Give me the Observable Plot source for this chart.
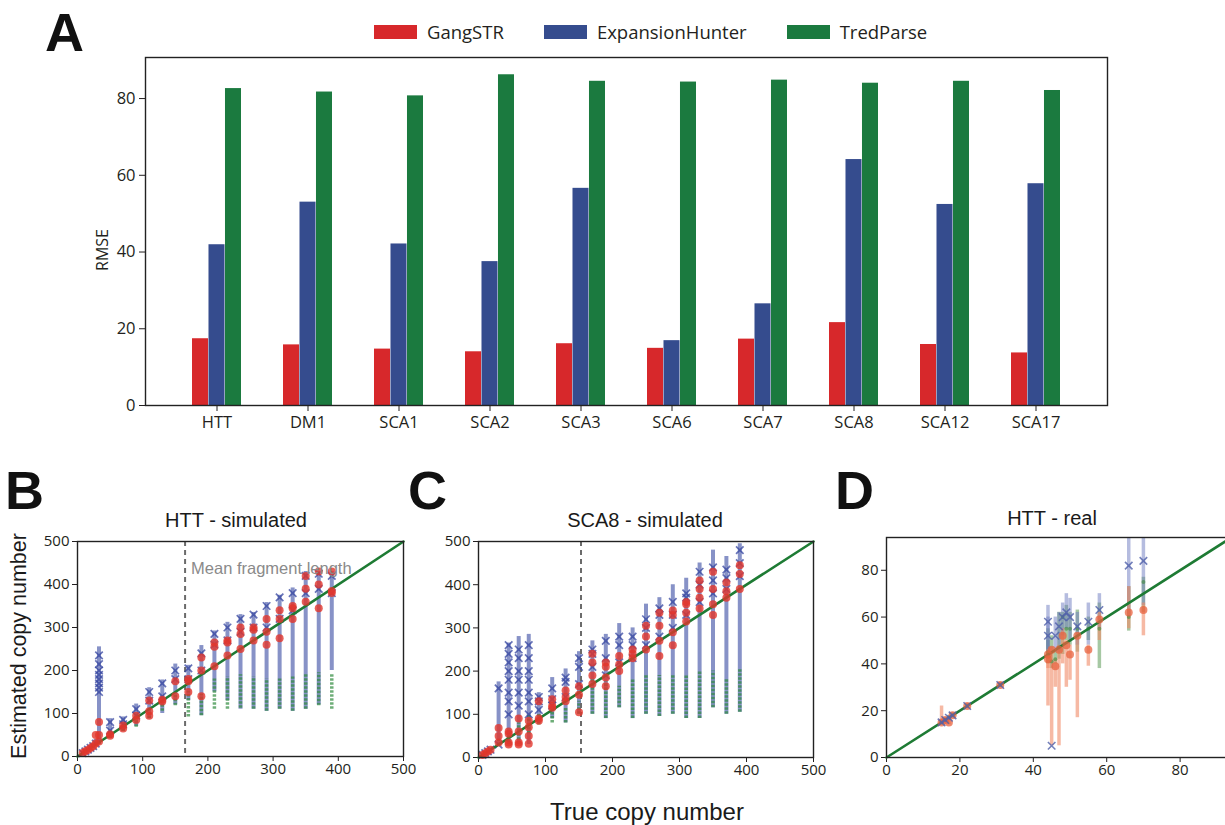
<!DOCTYPE html>
<html><head><meta charset="utf-8">
<script src="https://cdn.jsdelivr.net/npm/d3@7"></script>
<script src="https://cdn.jsdelivr.net/npm/@observablehq/plot@0.6"></script>
<style>
html,body{margin:0;padding:0;background:#fff;overflow:hidden;}
body{width:1225px;height:825px;position:relative;font-family:"Open Sans",sans-serif;color:#231f20;}
.abs{position:absolute;}
.letter{font-family:"Liberation Sans",Arial,sans-serif;font-weight:bold;font-size:54px;line-height:1;color:#111;}
.title{font-family:"Liberation Sans",Arial,sans-serif;font-size:20px;white-space:nowrap;transform:translateX(-50%);line-height:1;color:#1a1a1a;}
.legend{display:flex;align-items:center;font-size:18.5px;line-height:1;white-space:nowrap;}
.legend .item{display:flex;align-items:center;margin-right:40px;}
.legend .sw{width:43px;height:14px;margin-right:10px;}
svg{overflow:visible;max-width:none !important;}
</style></head><body>
<script>
// ---------- Panel A data ----------
const categories = ["HTT","DM1","SCA1","SCA2","SCA3","SCA6","SCA7","SCA8","SCA12","SCA17"];
const tools = ["GangSTR","ExpansionHunter","TredParse"];
const toolColors = ["#d7282b","#354c8e","#1b7a3f"];
const rmseGangSTR = [17.4, 15.8, 14.7, 14.0, 16.1, 14.9, 17.3, 21.6, 15.9, 13.7];
const rmseExpansionHunter = [41.9, 53.0, 42.1, 37.5, 56.6, 16.9, 26.5, 64.1, 52.4, 57.8];
const rmseTredParse = [82.6, 81.7, 80.7, 86.2, 84.5, 84.3, 84.8, 84.0, 84.5, 82.1];
const rmseTicks = [0, 20, 40, 60, 80];

// ---------- Panel B data (HTT - simulated) ----------
const bTrue  = [8, 12, 16, 20, 24, 28, 33, 50, 70, 90, 110, 130, 150, 170, 190, 210, 230, 250, 270, 290, 310, 330, 350, 370, 390];
const bEhLo  = [5, 9, 13, 17, 21, 25, 28, 45, 58, 70, 88, 100, 120, 130, 95, 150, 130, 110, 110, 105, 110, 105, 110, 120, 200];
const bEhHi  = [12, 16, 20, 25, 30, 40, 255, 88, 92, 122, 160, 178, 215, 212, 258, 292, 312, 330, 335, 358, 375, 392, 430, 430, 430];
const bEhPts = [[8],[12],[16],[20],[24],[30],[150,160,170,180,190,200,215,235],[60,80],[75,85],[95,110],[130,150],[140,170],[180,200],[180,205],[200,240],[260,285],[270,300],[290,320],[300,330],[300,350],[320,370],[340,380],[380,420],[390,425],[380,420]];
const bGsPts = [[8],[12],[15],[20],[24],[30,50],[35,50,80],[48,52],[65,72],[85,95],[95,105,130],[128,132],[140,175],[150,175,180],[140,200,230],[210,255,265],[235,265,270],[250,285,300],[270,295,300],[260,290,320],[275,320,340],[320,345,350],[360,390,420],[345,400,430],[380,385,430]];
const bTpLo  = [6, 10, 14, 18, 22, 25, 29, 42, 58, 68, 88, 105, 118, 92, 95, 110, 110, 112, 110, 105, 110, 105, 110, 118, 110];
const bTpHi  = [9, 13, 17, 21, 25, 29, 33, 55, 72, 88, 108, 125, 142, 152, 145, 180, 185, 190, 185, 180, 180, 185, 190, 195, 190];
const bMeanFragment = 165;

// ---------- Panel C data (SCA8 - simulated) ----------
const cTrue  = [6, 10, 14, 18, 30, 45, 60, 75, 90, 110, 130, 150, 170, 190, 210, 230, 250, 270, 290, 310, 330, 350, 370, 390];
const cEhLo  = [4, 8, 12, 16, 30, 30, 30, 30, 80, 90, 80, 100, 100, 90, 115, 90, 100, 95, 100, 90, 90, 115, 100, 105];
const cEhHi  = [8, 12, 16, 20, 175, 265, 280, 285, 150, 185, 205, 245, 270, 285, 310, 300, 355, 370, 400, 415, 450, 480, 465, 495];
const cEhPts = [[6],[10],[14],[18],[30,160],[100,130,150,180,200,220,240,260],[120,150,180,200,230,250],[100,130,150,180,200,230,260],[110,130,140],[120,135,160],[140,175,185],[170,210,230],[210,240,250],[190,230,270],[220,260,280],[230,260,280],[260,300,320],[280,330,345],[300,330,360],[330,370,380],[360,400,430],[380,410,440],[390,415,435],[420,450,480]];
const cGsPts = [[6],[10],[14],[18],[35,50,68],[30,35,55,60],[30,35,60,90],[32,50,70,85],[85,90,130],[115,120,135],[130,140,155],[105,145,165],[170,190,220,240],[165,185,210,220],[200,215,235],[230,240,250],[250,280,305],[235,270,305,335],[260,290,330,340],[315,335,355,360],[345,370,390,410],[330,355,390,430],[370,385,405],[390,425,445]];
const cTpLo  = [5, 9, 13, 17, 28, 35, 40, 55, 75, 80, 80, 100, 100, 90, 115, 90, 100, 95, 100, 90, 90, 115, 100, 105];
const cTpHi  = [7, 11, 15, 19, 40, 55, 80, 100, 100, 110, 115, 130, 180, 175, 165, 180, 190, 190, 190, 190, 200, 200, 180, 205];
const cMeanFragment = 153;

// ---------- Panel D data (HTT - real) ----------
const dTrue = [15, 16, 17, 18, 22, 31, 44, 44, 45, 46, 47, 48, 49, 50, 52, 55, 58, 66, 70];
const dGs   = [15, 16, 15, 18, 22, 31, 42, 44, 46, 39, 46, 52, 48, 44, 52, 46, 59, 62, 63];
const dGsLo = [15, 15, 14, 17, 21, 30, 22, 38, 5, 30, 5, 40, 30, 33, 17, 39, 50, 55, 52];
const dGsHi = [22, 17, 17, 19, 23, 32, 45, 46, 47, 42, 48, 55, 50, 48, 53, 48, 62, 73, 66];
const dEh   = [15, 16, 17, 18, 22, 31, 58, 52, 5, 52, 56, 60, 62, 60, 56, 58, 63, 82, 84];
const dEhLo = [14, 15, 16, 17, 21, 30, 45, 45, 5, 45, 45, 52, 55, 50, 48, 48, 55, 60, 65];
const dEhHi = [16, 17, 18, 19, 23, 32, 65, 60, 5, 60, 62, 66, 70, 68, 62, 66, 70, 94, 94];
const dTp   = [15, 16, 17, 18, 22, 31, 45, 44, 41, 42, 47, 60, 55, 55, 55, 55, 55, 60, 75];
const dTpLo = [14, 15, 16, 17, 21, 30, 40, 40, 38, 40, 42, 44, 50, 48, 45, 50, 38, 54, 62];
const dTpHi = [16, 17, 18, 19, 23, 32, 55, 50, 52, 46, 62, 62, 65, 62, 63, 60, 66, 73, 77];

const simTicks = [0, 100, 200, 300, 400, 500];
const simDomain = [0, 500];
const realTicks = [0, 20, 40, 60, 80];
const realDomain = [0, 94];

// ---------- helpers ----------
function place(el, left, top, w, h) {
  const d = document.createElement("div");
  d.className = "abs"; d.style.left = left + "px"; d.style.top = top + "px";
  if (w) d.style.width = w + "px";
  if (h) d.style.height = h + "px";
  d.appendChild(el); document.body.appendChild(d); return d;
}
function text(cls, str, left, top, extra) {
  const d = document.createElement("div");
  d.className = "abs " + cls; d.textContent = str;
  d.style.left = left + "px"; d.style.top = top + "px";
  if (extra) Object.assign(d.style, extra);
  document.body.appendChild(d); return d;
}

// ---------- Panel A ----------
const rmseByTool = [rmseGangSTR, rmseExpansionHunter, rmseTredParse];
const rows = categories.flatMap((c, i) => tools.map((t, j) => ({category: c, tool: t, value: rmseByTool[j][i]})));
const A = {width: 1225, height: 440, mL: 145, mR: 118, mT: 57, mB: 35, pIn: 0.46, pOut: 0.48};
const innerW = A.width - A.mL - A.mR;
const step = innerW / (categories.length - A.pIn + 2 * A.pOut);
const third = step * (1 - A.pIn) / 3;

const plotA = Plot.plot({
  width: A.width, height: A.height,
  marginLeft: A.mL, marginRight: A.mR, marginTop: A.mT, marginBottom: A.mB,
  style: {fontFamily: "Open Sans", fontSize: "16.5px", color: "#231f20", background: "transparent"},
  x: {domain: categories, paddingInner: A.pIn, paddingOuter: A.pOut, label: null, tickSize: 6, tickPadding: 5},
  y: {domain: [0, 90.7], ticks: rmseTicks, label: null, tickSize: 6, tickPadding: 4},
  marks: [
    ...tools.map((t, j) => Plot.barY(rows.filter(r => r.tool === t), {
      x: "category", y: "value", fill: toolColors[j],
      insetLeft: j * third, insetRight: (2 - j) * third
    })),
    Plot.frame({stroke: "#222", strokeWidth: 1.4})
  ]
});
place(plotA, 0, 0, A.width, A.height);

// legend
const leg = document.createElement("div");
leg.className = "legend";
tools.forEach((t, j) => {
  const it = document.createElement("div"); it.className = "item";
  const sw = document.createElement("div"); sw.className = "sw"; sw.style.background = toolColors[j];
  const lb = document.createElement("span"); lb.textContent = t;
  it.appendChild(sw); it.appendChild(lb); leg.appendChild(it);
});
place(leg, 374, 23, 700);

// ---------- scatter panels ----------
function simPanel(trueV, ehLo, ehHi, ehPts, gsPts, tpLo, tpHi, meanFrag, showMeanLabel, m) {
  const ranges = trueV.map((t, i) => ({t, ehLo: ehLo[i], ehHi: ehHi[i], tpLo: tpLo[i], tpHi: tpHi[i]}));
  const eh = trueV.flatMap((t, i) => ehPts[i].map(v => ({t, v})));
  const gs = trueV.flatMap((t, i) => gsPts[i].map(v => ({t, v})));
  return Plot.plot({
    width: 420, height: 320,
    marginLeft: m.l, marginRight: m.r, marginTop: m.t, marginBottom: m.b,
    style: {fontFamily: "Open Sans", fontSize: "15px", color: "#231f20", background: "transparent"},
    x: {domain: simDomain, ticks: simTicks, label: null, tickSize: 5, tickPadding: 2},
    y: {domain: simDomain, ticks: simTicks, label: null, tickSize: 5, tickPadding: 3},
    marks: [
      Plot.ruleX(ranges, {x: "t", y1: "ehLo", y2: "ehHi", stroke: "#3d4fa5", strokeOpacity: 0.62, strokeWidth: 4}),
      Plot.ruleX(ranges, {x: "t", y1: "tpLo", y2: "tpHi", stroke: "#2f8a3d", strokeOpacity: 0.7, strokeWidth: 3.5, strokeDasharray: "2.5,1.5"}),
      Plot.ruleX([meanFrag], {x: d => d, stroke: "#6b6b6b", strokeWidth: 2, strokeDasharray: "5,4"}),
      Plot.dot(eh, {x: "t", y: "v", symbol: "times", r: 3.5, stroke: "#3545a0", strokeOpacity: 0.75, strokeWidth: 1.7}),
      Plot.line(simDomain, {x: d => d, y: d => d, stroke: "#1e7b34", strokeWidth: 2.6}),
      Plot.dot(gs, {x: "t", y: "v", r: 4, fill: "#e2362c", fillOpacity: 0.8}),
      showMeanLabel ? Plot.text([meanFrag], {x: d => d, frameAnchor: "top", dy: 21, dx: 6, textAnchor: "start",
        text: () => "Mean fragment length", fill: "#8a8a8a", fontSize: 16.5, fontFamily: "Liberation Sans"}) : null,
      Plot.frame({stroke: "#222", strokeWidth: 1.4})
    ]
  });
}

const plotB = simPanel(bTrue, bEhLo, bEhHi, bEhPts, bGsPts, bTpLo, bTpHi, bMeanFragment, true, {l: 77, r: 17, t: 61, b: 44});
place(plotB, 0, 480, 420, 320);
const plotC = simPanel(cTrue, cEhLo, cEhHi, cEhPts, cGsPts, cTpLo, cTpHi, cMeanFragment, false, {l: 78, r: 7, t: 61, b: 43});
place(plotC, 400, 480, 420, 320);

// Panel D
const dRows = dTrue.map((t, i) => ({t, gs: dGs[i], gsLo: dGsLo[i], gsHi: dGsHi[i], eh: dEh[i], ehLo: dEhLo[i], ehHi: dEhHi[i], tp: dTp[i], tpLo: dTpLo[i], tpHi: dTpHi[i]}));
const plotD = Plot.plot({
  width: 420, height: 320,
  marginLeft: 66, marginRight: 9, marginTop: 57, marginBottom: 43,
  style: {fontFamily: "Open Sans", fontSize: "15px", color: "#231f20", background: "transparent"},
  x: {domain: realDomain, ticks: realTicks, label: null, tickSize: 5, tickPadding: 2},
  y: {domain: realDomain, ticks: realTicks, label: null, tickSize: 5, tickPadding: 3},
  marks: [
    Plot.ruleX(dRows, {x: "t", y1: "tpLo", y2: "tpHi", stroke: "#5d9a58", strokeOpacity: 0.55, strokeWidth: 3.5}),
    Plot.ruleX(dRows, {x: "t", y1: "ehLo", y2: "ehHi", stroke: "#6b7ac0", strokeOpacity: 0.5, strokeWidth: 3.5}),
    Plot.ruleX(dRows, {x: "t", y1: "gsLo", y2: "gsHi", stroke: "#f08a68", strokeOpacity: 0.6, strokeWidth: 3.5}),
    Plot.dot(dRows, {x: "t", y: "tp", r: 2, fill: "#3f8a3c", fillOpacity: 0.6}),
    Plot.line(realDomain, {x: d => d, y: d => d, stroke: "#1e7b34", strokeWidth: 2.6}),
    Plot.dot(dRows, {x: "t", y: "gs", r: 4, fill: "#e8633f", fillOpacity: 0.75}),
    Plot.dot(dRows, {x: "t", y: "eh", symbol: "times", r: 3.5, stroke: "#5060aa", strokeOpacity: 0.8, strokeWidth: 1.6}),
    Plot.frame({stroke: "#222", strokeWidth: 1.4})
  ]
});
place(plotD, 820, 480, 420, 320);

// ---------- texts ----------
text("letter", "A", 45, 5);
text("letter", "B", 5, 463);
text("letter", "C", 408, 463);
text("letter", "D", 835, 463);
text("title", "HTT - simulated", 236, 510);
text("title", "SCA8 - simulated", 645, 510);
text("title", "HTT - real", 1052, 508);
text("title", "RMSE", 102, 250, {fontFamily: "Open Sans", fontSize: "16px", transform: "translate(-50%,-50%) rotate(-90deg)", color: "#231f20"});
text("title", "Estimated copy number", 20, 646, {fontSize: "21.5px", transform: "translate(-50%,-50%) rotate(-90deg)", transformOrigin: "center"});
text("title", "True copy number", 647, 800, {fontSize: "24px"});
</script>
</body></html>
